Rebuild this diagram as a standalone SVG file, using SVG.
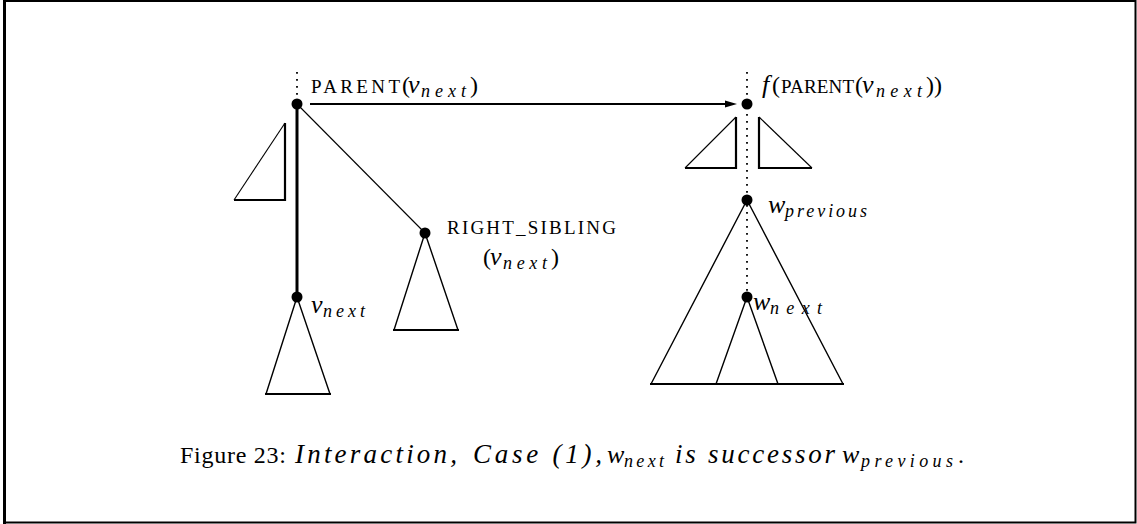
<svg xmlns="http://www.w3.org/2000/svg" width="1137" height="524" viewBox="0 0 1137 524">
<style>
.thin{stroke:#000;stroke-width:1.1;fill:none}
.leg{stroke:#000;stroke-width:1.4;fill:none}
.thick{stroke:#000;stroke-width:2.2;fill:none}
.dot{stroke:#000;stroke-width:1.8;stroke-dasharray:1.8 5.2;fill:none}
.node{fill:#000}
.rm{font-family:"Liberation Serif",serif;font-size:24px;fill:#000}
.it{font-family:"Liberation Serif",serif;font-size:26px;font-style:italic;fill:#000}
.cap{font-family:"Liberation Serif",serif;font-size:27px;font-style:italic;fill:#000}
.sub{font-family:"Liberation Serif",serif;font-size:18px;font-style:italic;fill:#000}
.sc{font-family:"Liberation Serif",serif;font-size:19px;fill:#000}
</style>
<rect x="0" y="0" width="1137" height="524" fill="#fff"/>
<path d="M4.5 1 H1135.5 V522.5 H4.5 Z" fill="none" stroke="#000" stroke-width="2"/>
<line x1="4.5" y1="0" x2="4.5" y2="524" stroke="#000" stroke-width="3"/>

<g id="connectors">
<line class="dot" x1="297" y1="72" x2="297" y2="99"/>
<line class="dot" x1="747" y1="72" x2="747" y2="297"/>
<line x1="297" y1="104" x2="297" y2="297" stroke="#000" stroke-width="3"/>
<line class="thin" x1="297" y1="104" x2="425" y2="233"/>
<line x1="310" y1="104" x2="727" y2="104" stroke="#000" stroke-width="2"/>
<polygon points="737,104 725,100.5 725,107.5" fill="#000"/>
</g>

<g id="parent">
<circle class="node" cx="297" cy="104" r="5.5"/>
<text class="sc" x="311" y="93" textLength="89" lengthAdjust="spacing">PARENT</text>
<text class="rm" x="402" y="93">(</text>
<text class="it" x="408" y="93">v</text>
<text class="sub" x="421" y="97" textLength="45" lengthAdjust="spacing">next</text>
<text class="rm" x="470" y="93">)</text>
</g>

<g id="left-subtree">
<path class="thin" d="M234 200 L285 123"/>
<path class="thick" d="M285 123 V200 H234"/>
</g>

<g id="vnext">
<circle class="node" cx="297" cy="297" r="5.5"/>
<path class="leg" d="M297 297 L266 394 M297 297 L330 394"/>
<line class="thick" x1="265" y1="394" x2="331" y2="394"/>
<text class="it" x="311" y="313">v</text>
<text class="sub" x="323" y="317" textLength="42" lengthAdjust="spacing">next</text>
</g>

<g id="right-sibling">
<circle class="node" cx="425" cy="233" r="5.5"/>
<path class="leg" d="M425 233 L394 330 M425 233 L458 330"/>
<line class="thick" x1="393" y1="330" x2="459" y2="330"/>
<text class="sc" x="447" y="234" textLength="169" lengthAdjust="spacing">RIGHT_SIBLING</text>
<text class="rm" x="483" y="265">(</text>
<text class="it" x="490" y="265">v</text>
<text class="sub" x="503" y="269" textLength="44" lengthAdjust="spacing">next</text>
<text class="rm" x="551" y="265">)</text>
</g>

<g id="f-parent">
<circle class="node" cx="747" cy="104" r="5.5"/>
<path class="thin" d="M685 168 L736 117"/>
<path class="thick" d="M736 117 V168 H685"/>
<path class="thin" d="M759 117 L812 168"/>
<path class="thick" d="M759 117 V168 H812"/>
<text class="it" x="762" y="93">f</text>
<text class="rm" x="772" y="93">(</text>
<text class="sc" x="781" y="93" textLength="73" lengthAdjust="spacing">PARENT</text>
<text class="rm" x="855" y="93">(</text>
<text class="it" x="862" y="93">v</text>
<text class="sub" x="876" y="97" textLength="46" lengthAdjust="spacing">next</text>
<text class="rm" x="926" y="93">))</text>
</g>

<g id="wprevious">
<circle class="node" cx="747" cy="200" r="5.5"/>
<path class="leg" d="M747 200 L651 384 M747 200 L843 384"/>
<line class="thick" x1="650" y1="384" x2="844" y2="384"/>
<text class="it" x="768" y="213">w</text>
<text class="sub" x="785" y="217" textLength="82" lengthAdjust="spacing">previous</text>
</g>

<g id="wnext">
<circle class="node" cx="747" cy="297" r="5.5"/>
<path class="leg" d="M747 297 L716 384 M747 297 L778 384"/>
<text class="it" x="753" y="310">w</text>
<text class="sub" x="770" y="314" textLength="52" lengthAdjust="spacing">next</text>
</g>

<g id="caption">
<text class="rm" x="180" y="463" textLength="106" lengthAdjust="spacing">Figure 23:</text>
<text class="cap" x="295" y="463" textLength="162" lengthAdjust="spacing">Interaction,</text>
<text class="cap" x="473" y="463" textLength="129" lengthAdjust="spacing">Case (1),</text>
<text class="it" x="607" y="463">w</text>
<text class="sub" x="624" y="467" textLength="40" lengthAdjust="spacing">next</text>
<text class="cap" x="675" y="463" textLength="160" lengthAdjust="spacing">is successor</text>
<text class="it" x="842" y="463">w</text>
<text class="sub" x="861" y="467" textLength="92" lengthAdjust="spacing">previous</text>
<text class="rm" x="958" y="463">.</text>
</g>
</svg>
